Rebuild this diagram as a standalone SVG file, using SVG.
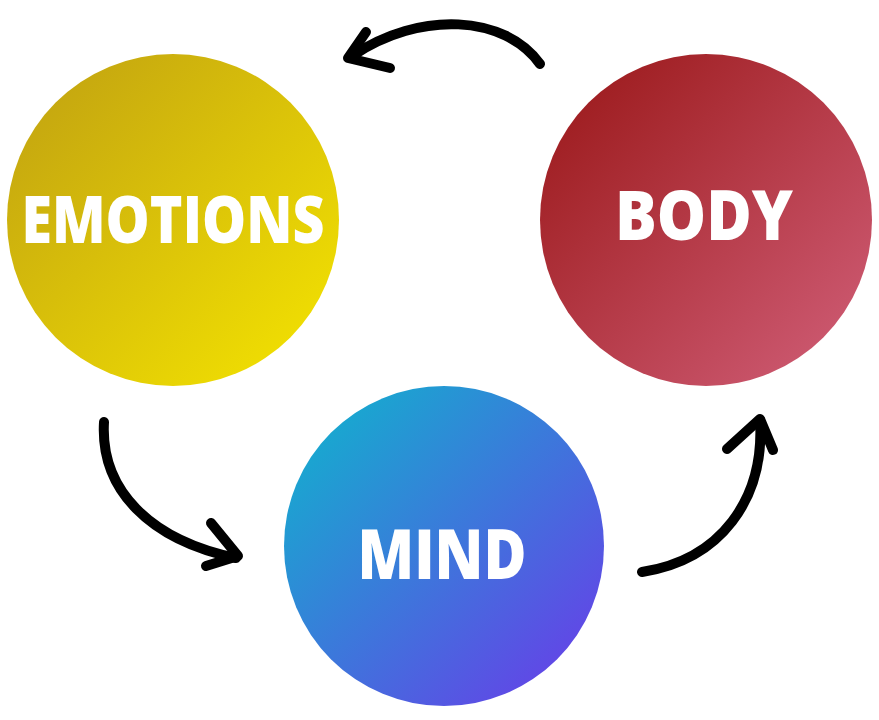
<svg xmlns="http://www.w3.org/2000/svg" width="879" height="720" viewBox="0 0 879 720">
<defs>
<linearGradient id="gE" x1="0" y1="0" x2="1" y2="1"><stop offset="0" stop-color="#bf9f12"/><stop offset="1" stop-color="#f6e600"/></linearGradient>
<linearGradient id="gB" x1="0" y1="0" x2="1" y2="1"><stop offset="0" stop-color="#981515"/><stop offset="1" stop-color="#d2607a"/></linearGradient>
<linearGradient id="gM" x1="0" y1="0" x2="1" y2="1"><stop offset="0" stop-color="#0cb8cc"/><stop offset="1" stop-color="#6d37ea"/></linearGradient>
<style>
.lbl{font-family:"Open Sans","Liberation Sans",sans-serif;font-weight:800;fill:#fff;text-anchor:middle}
.arr{fill:none;stroke:#000;stroke-linecap:round;stroke-linejoin:round}
</style>
</defs>
<rect width="879" height="720" fill="#fff"/>
<g id="emotions"><circle cx="173" cy="220" r="166" fill="url(#gE)"/><text class="lbl" x="173" y="243" font-size="65" textLength="303" lengthAdjust="spacingAndGlyphs">EMOTIONS</text></g>
<g id="body"><circle cx="706" cy="220" r="166" fill="url(#gB)"/><text class="lbl" x="704" y="240" font-size="69" textLength="178" lengthAdjust="spacingAndGlyphs">BODY</text></g>
<g id="mind"><circle cx="444" cy="546" r="160" fill="url(#gM)"/><text class="lbl" x="442" y="579" font-size="69" textLength="169" lengthAdjust="spacingAndGlyphs">MIND</text></g>
<g id="connectors">
<path class="arr" stroke-width="10" d="M540,64 C505,15 420,10 352,56"/>
<path class="arr" stroke-width="10" d="M366,32 L348,58 L390,68"/>
<path class="arr" stroke-width="10" d="M104,422 C100,490 150,540 236,558"/>
<path class="arr" stroke-width="10" d="M211,523 L238,556 L206,566"/>
<path class="arr" stroke-width="10" d="M642,572 C720,560 765,500 760,420"/>
<path class="arr" stroke-width="10" d="M727,449 L760,419 L773,450"/>
</g>
</svg>
